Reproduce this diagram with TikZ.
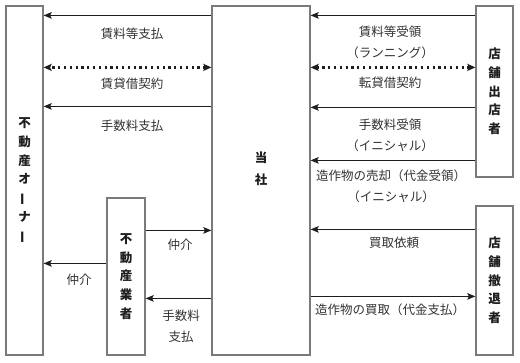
\documentclass[tikz,border=0pt]{standalone}
\usepackage{fontspec}
\usepackage{graphicx}
\newfontfamily\cjk{Noto Sans CJK JP}
\usetikzlibrary{arrows.meta,calc}
\definecolor{boxgray}{HTML}{7A7A7A}
\definecolor{inkdark}{HTML}{1E1E1E}
\definecolor{txtgray}{HTML}{333333}
\newcommand{\vbar}{\rotatebox[origin=c]{90}{ー}}
\tikzset{
  party/.style={draw=boxgray, line width=1.2pt, fill=white, inner sep=0pt},
  vname/.style={align=center, inner sep=0pt, text=inkdark, font=\cjk\bfseries\fontsize{12.5}{18.7}\selectfont},
  lbl/.style={inner sep=0pt, text=txtgray, font=\cjk\fontsize{12.5}{21}\selectfont, align=center},
  arr/.style={draw=inkdark, line width=1.4pt, -{Stealth[length=8pt,width=6.5pt,inset=1.5pt]}},
  darr/.style={draw=inkdark, line width=2.2pt, dash pattern=on 2.2pt off 3.6pt,
    {Stealth[length=8pt,width=7pt,inset=1.5pt]}-{Stealth[length=8pt,width=7pt,inset=1.5pt]}}
}
\begin{document}
\begin{tikzpicture}[x=1pt,y=-1pt]
\useasboundingbox[fill=white] (0,0) rectangle (520,362);
% boxes
\node[party, minimum width=37pt, minimum height=349pt] (owner) at (24.5,180.5) {};
\node[party, minimum width=98pt, minimum height=349pt] (tosha) at (261,180.5) {};
\node[party, minimum width=37pt, minimum height=171pt] (shop) at (494.5,91.5) {};
\node[party, minimum width=37pt, minimum height=149pt] (exit) at (494.5,280.5) {};
\node[party, minimum width=38pt, minimum height=157pt] (agent) at (126,276.5) {};
% vertical names
\node[vname] (ownerT) at (owner.center) {不\\動\\産\\オ\\\vbar\\ナ\\\vbar};
\node[vname, font=\cjk\bfseries\fontsize{12.5}{22}\selectfont] (toshaT) at (261,169) {当\\社};
\node[vname] (shopT) at (shop.center) {店\\舗\\出\\店\\者};
\node[vname] (exitT) at (exit.center) {店\\舗\\撤\\退\\者};
\node[vname] (agentT) at (agent.center) {不\\動\\産\\業\\者};
% left side arrows
\draw[arr] ($(tosha.north west)+(0,10)$) -- ($(owner.north east)+(0,10)$);
\draw[darr] ($(tosha.north west)+(0,62)$) -- ($(owner.north east)+(0,62)$);
\draw[arr] ($(tosha.north west)+(0,101)$) -- ($(owner.north east)+(0,101)$);
\draw[arr] ($(agent.north west)+(0,66)$) -- ($(owner.north east)+(0,258)$);
\draw[arr] ($(agent.north east)+(0,33)$) -- ($(tosha.north west)+(0,225)$);
\draw[arr] ($(tosha.north west)+(0,293)$) -- ($(agent.north east)+(0,101)$);
% right side arrows
\draw[arr] ($(shop.north west)+(0,10)$) -- ($(tosha.north east)+(0,10)$);
\draw[darr] ($(tosha.north east)+(0,62)$) -- ($(shop.north west)+(0,62)$);
\draw[arr] ($(shop.north west)+(0,102)$) -- ($(tosha.north east)+(0,102)$);
\draw[arr] ($(shop.north west)+(0,155)$) -- ($(tosha.north east)+(0,155)$);
\draw[arr] ($(exit.north west)+(0,24)$) -- ($(tosha.north east)+(0,224)$);
\draw[arr] ($(tosha.north east)+(0,291)$) -- ($(exit.north west)+(0,91)$);
% labels left
\node[lbl] (l1) at (132,34) {賃料等支払};
\node[lbl] (l2) at (132,84) {賃貸借契約};
\node[lbl] (l3) at (132,126) {手数料支払};
\node[lbl] (l4) at (79,280) {仲介};
\node[lbl] (l5) at (180,245) {仲介};
\node[lbl] (l6) at (181,326.5) {手数料\\支払};
% labels right
\node[lbl] (r1) at (390,42.5) {賃料等受領\\（ランニング）};
\node[lbl] (r2) at (390,83) {転貸借契約};
\node[lbl] (r3) at (390,135.5) {手数料受領\\（イニシャル）};
\node[lbl] (r4) at (391,186.5) {造作物の売却（代金受領）\\（イニシャル）};
\node[lbl] (r5) at (394,243) {買取依頼};
\node[lbl] (r6) at (390,310) {造作物の買取（代金支払）};
\end{tikzpicture}
\end{document}
